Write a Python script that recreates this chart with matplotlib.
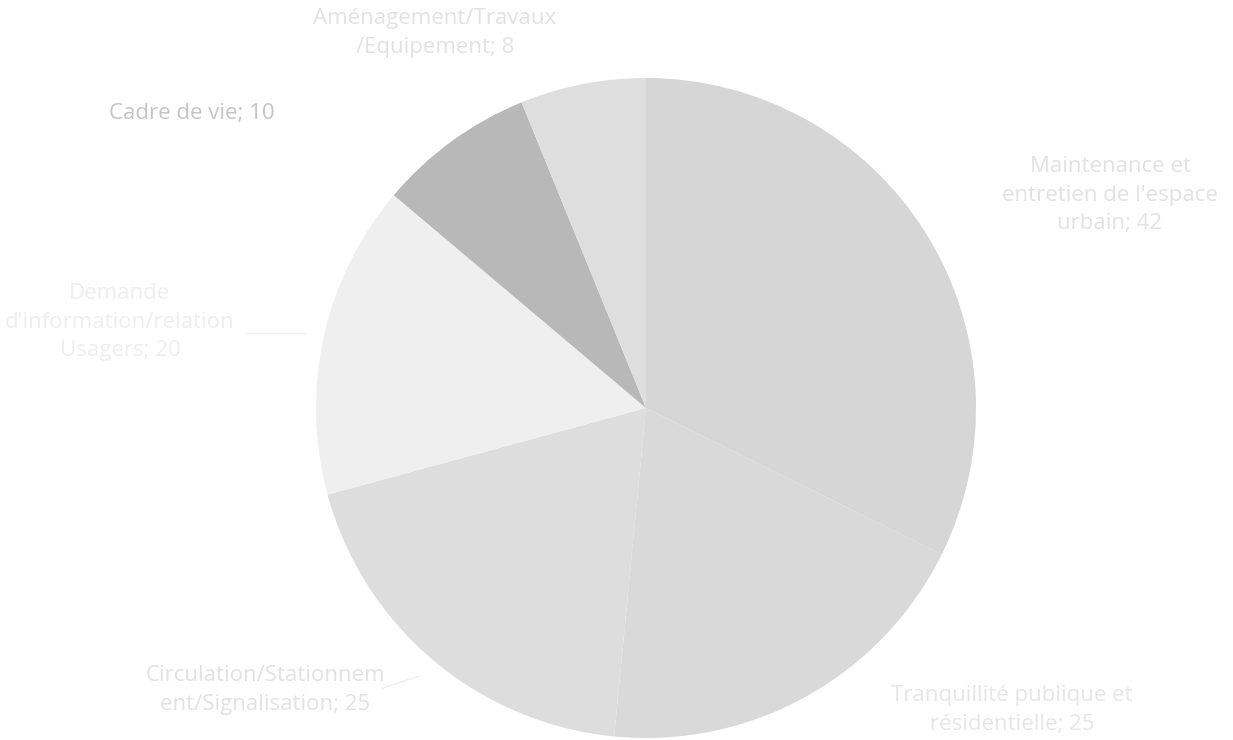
import matplotlib
matplotlib.use("Agg")
import matplotlib.pyplot as plt

categories = [
    "Maintenance et\nentretien de l'espace\nurbain",
    "Tranquillité publique et\nrésidentielle",
    "Circulation/Stationnem\nent/Signalisation;",
    "Demande\nd'information/relation\nUsagers",
    "Cadre de vie",
    "Aménagement/Travaux\n/Equipement",
]
values = [42, 25, 25, 20, 10, 8]
slice_colors = ["#d6d6d6", "#d9d9d9", "#dddddd", "#efefef", "#b8b8b8", "#dedede"]
label_texts = [
    "Maintenance et\nentretien de l'espace\nurbain; 42",
    "Tranquillité publique et\nrésidentielle; 25",
    "Circulation/Stationnem\nent/Signalisation; 25",
    "Demande\nd'information/relation\nUsagers; 20",
    "Cadre de vie; 10",
    "Aménagement/Travaux\n/Equipement; 8",
]
label_colors = ["#e2e2e2", "#e6e6e6", "#e2e2e2", "#eeeeee", "#c4c4c4", "#e2e2e2"]

W, H = 1233, 740
cx, cy, R = 646, 408, 330
fig = plt.figure(figsize=(W / 100, H / 100), dpi=100)
ax = fig.add_axes([(cx - R) / W, (H - cy - R) / H, 2 * R / W, 2 * R / H])
ax.pie(values, colors=slice_colors, startangle=90, counterclock=False,
       radius=1, wedgeprops=dict(linewidth=0))
ax.set_xlim(-1, 1)
ax.set_ylim(-1, 1)
ax.set_aspect("equal")
ax.axis("off")

def d(px, py):
    return (px - cx) / R, (cy - py) / R

label_pos = [(1110, 195), (1012, 710), (265, 690), (120, 322), (192, 113), (435, 33)]
for txt, col, (px, py) in zip(label_texts, label_colors, label_pos):
    x, y = d(px, py)
    ax.text(x, y, txt, ha="center", va="center", fontsize=16, color=col,
            family="Open Sans", linespacing=1.45, clip_on=False)

# faint leader lines
for (p0, p1) in [((245, 333), (305, 333)), ((383, 688), (420, 676))]:
    x0, y0 = d(*p0)
    x1, y1 = d(*p1)
    ax.plot([x0, x1], [y0, y1], color="#eeeeee", lw=1, clip_on=False)

fig.savefig("out.png", dpi=100, facecolor="white")
